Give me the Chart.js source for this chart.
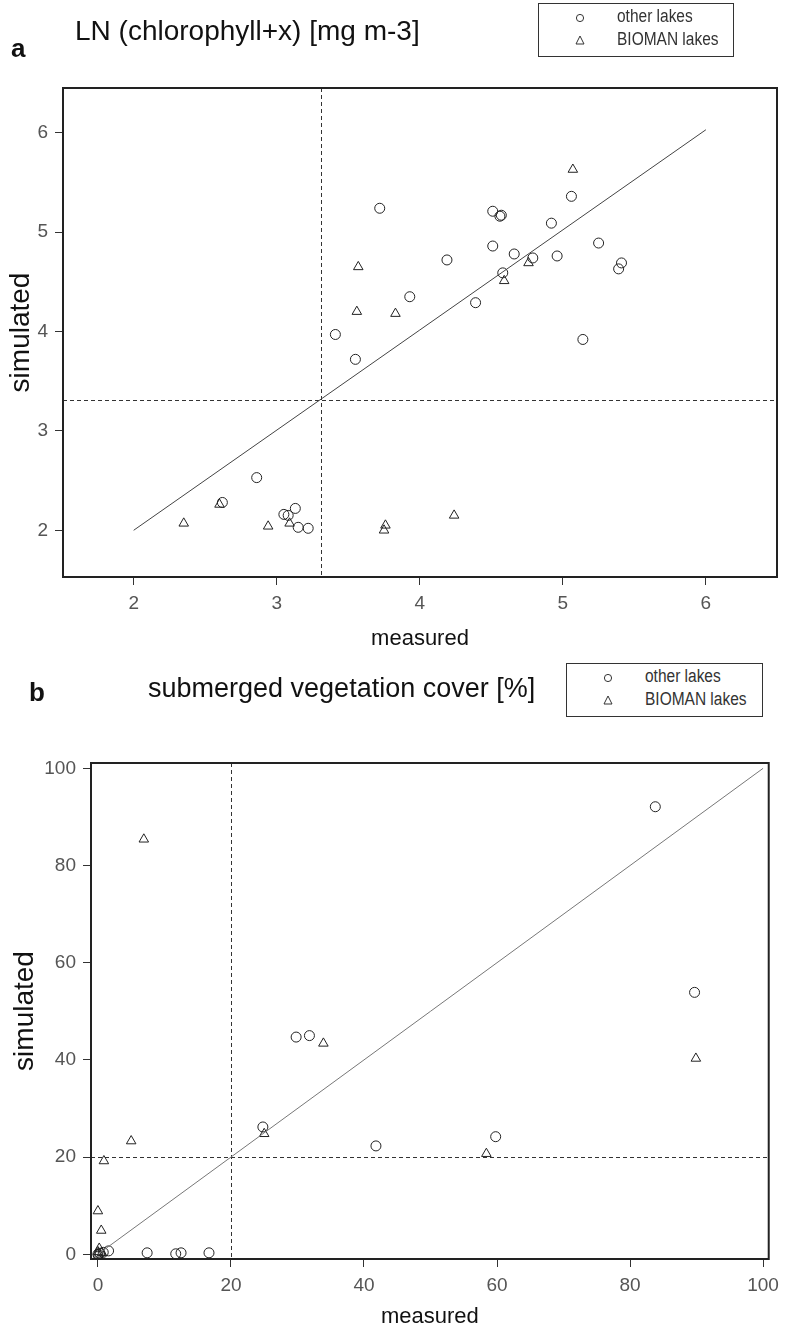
<!DOCTYPE html>
<html>
<head>
<meta charset="utf-8">
<script src="https://cdn.jsdelivr.net/npm/chart.js@4.4.1/dist/chart.umd.min.js"></script>
<style>
  body { margin: 0; background: #fff; width: 786px; height: 1329px; position: relative; overflow: hidden;
         font-family: "Liberation Sans", Arial, sans-serif; color: #111; }
  canvas { position: absolute; left: 0; }
  .txt { position: absolute; white-space: nowrap; z-index: 2; }
  .panel { font-weight: bold; font-size: 26px; }
  .title { font-size: 27px; transform-origin: left center; }
  .legend { position: absolute; border: 1px solid #333; background: #fff; z-index: 2; font-size: 18px; color: #333; }
  .legend div, .legend svg { position: absolute; white-space: nowrap; }
  .legend .lt { transform: scaleX(0.86); transform-origin: left center; }
</style>
</head>
<body>
<canvas id="chartA" width="786" height="600" style="top:60px"></canvas>
<canvas id="chartB" width="786" height="669" style="top:660px"></canvas>

<div class="txt panel" style="left:11px; top:33px;">a</div>
<div class="txt title" style="left:75px; top:15px; font-size:28px;">LN (chlorophyll+x) [mg m-3]</div>
<div class="legend" style="left:538px; top:3px; width:194px; height:52px;">
  <svg style="left:36px; top:9px;" width="10" height="10"><circle cx="5" cy="5" r="3.6" fill="none" stroke="#333" stroke-width="1"/></svg>
  <div class="lt" style="left:78px; top:2px;">other lakes</div>
  <svg style="left:36px; top:31px;" width="10" height="10"><polygon points="5,1 9,9 1,9" fill="none" stroke="#333" stroke-width="1"/></svg>
  <div class="lt" style="left:78px; top:25px;">BIOMAN lakes</div>
</div>

<div class="txt panel" style="left:29px; top:677px;">b</div>
<div class="txt title" style="left:148px; top:673px;">submerged vegetation cover [%]</div>
<div class="legend" style="left:566px; top:663px; width:195px; height:52px;">
  <svg style="left:36px; top:9px;" width="10" height="10"><circle cx="5" cy="5" r="3.6" fill="none" stroke="#333" stroke-width="1"/></svg>
  <div class="lt" style="left:78px; top:2px;">other lakes</div>
  <svg style="left:36px; top:31px;" width="10" height="10"><polygon points="5,1 9,9 1,9" fill="none" stroke="#333" stroke-width="1"/></svg>
  <div class="lt" style="left:78px; top:25px;">BIOMAN lakes</div>
</div>

<script>
// panel a: LN(chlorophyll+x), measured vs simulated
const chlOther = [
  [3.55, 3.72], [2.86, 2.53], [2.62, 2.28], [3.05, 2.16], [3.08, 2.15], [3.13, 2.22],
  [3.15, 2.03], [3.22, 2.02], [3.72, 5.24], [3.93, 4.35], [3.41, 3.97], [5.06, 5.36],
  [4.51, 5.21], [4.56, 5.16], [4.57, 5.17], [4.92, 5.09], [5.25, 4.89], [4.51, 4.86],
  [4.66, 4.78], [4.96, 4.76], [4.79, 4.74], [5.41, 4.69], [5.39, 4.63], [4.19, 4.72],
  [4.58, 4.59], [4.39, 4.29], [5.14, 3.92]
];
const chlBioman = [
  [2.60, 2.26], [2.35, 2.07], [2.94, 2.04], [3.09, 2.07], [3.75, 2.00], [3.76, 2.05],
  [4.24, 2.15], [3.57, 4.65], [3.56, 4.20], [3.83, 4.18], [5.07, 5.63], [4.76, 4.69],
  [4.59, 4.51]
];
const chlFit = [[2, 2], [6, 6.03]];
const chlRef = 3.31;
const chlTicks = [2, 3, 4, 5, 6];

// panel b: submerged vegetation cover [%]
const vegOther = [
  [83.8, 92.1], [89.7, 53.9], [29.8, 44.7], [31.8, 45.0], [24.8, 26.2], [41.8, 22.3],
  [59.8, 24.2], [7.4, 0.3], [11.7, 0.1], [12.5, 0.3], [16.7, 0.3], [1.6, 0.7],
  [0.0, 0.0], [0.3, 0.2], [0.8, 0.4]
];
const vegBioman = [
  [6.9, 85.4], [89.9, 40.3], [33.9, 43.4], [25.0, 24.8], [5.0, 23.3], [0.9, 19.2],
  [0.0, 8.9], [0.5, 4.9], [58.4, 20.7], [0.0, 0.0], [0.0, 0.5], [0.2, 1.2], [0.6, 0.3]
];
const vegFit = [[0, 0], [100, 100]];
const vegRef = 20;
const vegTicks = [0, 20, 40, 60, 80, 100];

const toPts = arr => arr.map(p => ({ x: p[0], y: p[1] }));

const frameAndRefs = {
  id: 'frameAndRefs',
  beforeDatasetsDraw(chart, args, opts) {
    const { ctx, chartArea: a, scales: { x, y } } = chart;
    ctx.save();
    ctx.strokeStyle = '#333';
    ctx.lineWidth = 1;
    ctx.setLineDash([4, 3]);
    const px = Math.round(x.getPixelForValue(opts.ref)) + 0.5;
    const py = Math.round(y.getPixelForValue(opts.ref)) + 0.5;
    ctx.beginPath();
    ctx.moveTo(px, a.top); ctx.lineTo(px, a.bottom);
    ctx.moveTo(a.left, py); ctx.lineTo(a.right, py);
    ctx.stroke();
    ctx.restore();
  },
  afterDraw(chart) {
    const { ctx, chartArea: a } = chart;
    ctx.save();
    ctx.strokeStyle = '#222';
    ctx.lineWidth = 2;
    ctx.strokeRect(a.left, a.top, a.right - a.left, a.bottom - a.top);
    ctx.restore();
  }
};

function axis(min, max, ticks, title, fit, titlePad, titleSize) {
  return {
    type: 'linear', min: min, max: max,
    afterBuildTicks: s => { s.ticks = ticks.map(v => ({ value: v })); },
    afterFit: fit,
    border: { display: false },
    grid: { drawOnChartArea: false, drawTicks: true, tickLength: 8, tickColor: '#333', tickWidth: 1 },
    ticks: { color: '#555', padding: 7, font: { family: 'Liberation Sans', size: 19 } },
    title: { display: true, text: title, color: '#111', padding: titlePad,
             font: { family: 'Liberation Sans', size: titleSize, lineHeight: 1.1 } }
  };
}

function makeChart(id, other, bioman, fit, ref, xr, yr, ticks, lay, fitColor) {
  return new Chart(document.getElementById(id), {
    type: 'scatter',
    data: {
      datasets: [
        { data: toPts(fit), showLine: true, pointRadius: 0, borderColor: fitColor, borderWidth: 1 },
        { label: 'other lakes', data: toPts(other), pointStyle: 'circle', pointRadius: 5,
          borderColor: '#222', backgroundColor: 'rgba(0,0,0,0)', borderWidth: 1 },
        { label: 'BIOMAN lakes', data: toPts(bioman), pointStyle: 'triangle', pointRadius: 5.5,
          borderColor: '#222', backgroundColor: 'rgba(0,0,0,0)', borderWidth: 1 }
      ]
    },
    options: {
      responsive: false,
      animation: false,
      devicePixelRatio: 1,
      layout: { padding: { top: lay.top, right: lay.right, left: 0, bottom: 0 } },
      plugins: { legend: { display: false }, tooltip: { enabled: false }, frameAndRefs: { ref: ref } },
      scales: {
        x: axis(xr[0], xr[1], ticks, 'measured', s => { s.height = lay.xh; }, { bottom: lay.xtp }, 22),
        y: axis(yr[0], yr[1], ticks, 'simulated', s => { s.width = lay.yw; }, { top: lay.ytp }, 28)
      }
    },
    plugins: [frameAndRefs]
  });
}

makeChart('chartA', chlOther, chlBioman, chlFit, chlRef, [1.506, 6.497], [1.53, 6.45], chlTicks,
  { top: 28, right: 9, xh: 83, yw: 63, xtp: 9, ytp: 6 }, '#444');
makeChart('chartB', vegOther, vegBioman, vegFit, vegRef, [-1.04, 100.85], [-0.97, 101.1], vegTicks,
  { top: 103, right: 10, xh: 70, yw: 91, xtp: 0, ytp: 10 }, '#777');
</script>
</body>
</html>
